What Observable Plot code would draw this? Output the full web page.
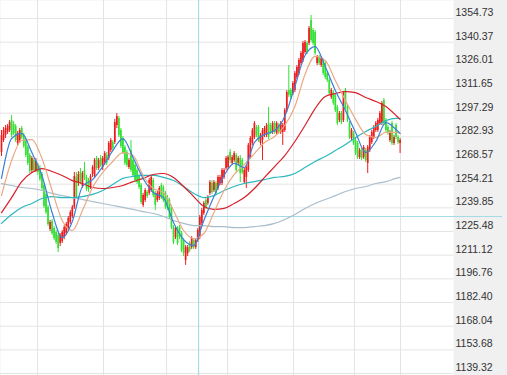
<!DOCTYPE html>
<html><head><meta charset="utf-8">
<script src="https://cdn.jsdelivr.net/npm/d3@7"></script>
<script src="https://cdn.jsdelivr.net/npm/@observablehq/plot@0.6"></script>
<style>body{margin:0;background:#fff;} svg{display:block;}</style>
</head><body><div id="chart"></div>
<script>
// OHLC values, one per candle (index 0..197)
const opens = [
1273.4,1280.7,1283.7,1285.6,1286.8,1292.8,1290.4,1289.2,1278.9,1280.7,
1288.0,1283.7,1280.7,1276.5,1271.6,1262.5,1268.6,1262.5,1264.9,1263.7,
1260.1,1253.4,1248.0,1240.1,1226.7,1231.6,1227.3,1224.9,1223.1,1218.2,
1219.4,1221.8,1224.3,1227.3,1231.0,1234.6,1240.1,1258.3,1254.6,1261.3,
1252.8,1262.5,1258.3,1256.4,1252.2,1260.1,1258.9,1269.8,1263.7,1269.8,
1264.3,1267.4,1271.6,1269.8,1274.6,1279.5,1279.5,1289.8,1294.1,1286.8,
1281.9,1276.5,1273.4,1264.3,1274.6,1268.6,1265.5,1262.5,1258.9,1253.4,
1241.3,1244.3,1249.2,1248.6,1250.4,1256.4,1248.6,1244.3,1245.5,1253.4,
1252.2,1248.6,1246.1,1244.3,1240.1,1227.9,1221.8,1227.3,1227.9,1224.3,
1220.0,1207.9,1212.1,1218.2,1215.7,1220.0,1215.7,1220.0,1221.8,1230.4,
1236.4,1244.3,1242.5,1248.6,1254.6,1250.4,1254.6,1251.6,1254.6,1254.6,
1258.3,1263.7,1264.3,1273.4,1266.8,1268.6,1271.6,1266.8,1269.8,1268.6,
1255.2,1258.3,1262.5,1270.4,1278.9,1282.5,1288.6,1288.6,1278.9,1280.7,
1283.7,1283.7,1291.0,1289.8,1285.6,1291.0,1285.0,1289.8,1285.6,1285.6,
1286.8,1298.9,1311.0,1311.0,1309.2,1311.0,1318.9,1321.4,1327.4,1329.2,
1334.1,1339.6,1339.6,1353.5,1347.5,1346.2,1327.4,1331.1,1326.2,1329.2,
1327.4,1321.4,1317.1,1306.8,1309.8,1308.0,1300.7,1292.8,1297.1,1292.8,
1311.0,1300.7,1291.0,1281.9,1285.0,1280.7,1278.9,1270.4,1274.6,1270.4,
1274.6,1266.8,1274.6,1279.5,1282.5,1286.8,1286.8,1291.0,1291.0,1305.0,
1292.8,1288.6,1280.7,1291.0,1278.9,1289.8,1282.5,1278.9];
const highs = [
1286.8,1288.6,1289.8,1290.4,1292.8,1295.9,1292.2,1290.4,1286.2,1288.0,
1289.2,1285.0,1281.9,1277.7,1272.8,1271.0,1269.8,1269.8,1266.8,1265.5,
1261.3,1254.6,1249.2,1241.3,1232.2,1232.8,1228.5,1226.1,1224.3,1224.3,
1226.1,1229.1,1231.0,1234.6,1238.2,1241.3,1261.3,1261.3,1261.9,1263.7,
1261.9,1267.4,1259.5,1257.7,1260.1,1265.5,1269.8,1271.0,1269.8,1271.6,
1271.0,1274.0,1273.4,1280.1,1281.9,1280.7,1293.5,1297.1,1295.3,1288.0,
1283.1,1277.7,1274.6,1269.8,1280.7,1269.8,1266.8,1263.7,1260.1,1254.6,
1248.6,1251.6,1250.4,1257.7,1259.5,1257.7,1249.8,1249.8,1252.8,1254.6,
1253.4,1249.8,1247.3,1245.5,1241.3,1229.1,1228.5,1228.5,1229.1,1225.5,
1221.2,1217.0,1217.0,1219.4,1222.4,1221.2,1221.2,1227.3,1235.2,1239.5,
1243.7,1245.5,1247.3,1256.4,1256.4,1256.4,1255.8,1259.5,1259.5,1263.7,
1263.7,1271.0,1271.6,1275.3,1271.6,1274.0,1272.8,1271.0,1271.6,1269.8,
1263.7,1265.5,1278.9,1283.1,1288.0,1292.2,1289.8,1289.8,1285.0,1288.0,
1289.2,1291.0,1300.7,1291.0,1292.2,1292.2,1292.2,1291.0,1292.2,1291.0,
1300.1,1311.0,1326.2,1312.3,1316.5,1322.6,1326.2,1330.5,1334.7,1340.8,
1341.4,1340.8,1349.9,1356.6,1348.7,1347.5,1332.3,1332.3,1331.7,1330.5,
1328.6,1322.6,1318.3,1312.3,1311.0,1309.2,1302.0,1298.3,1298.3,1310.4,
1312.3,1302.0,1292.2,1288.0,1286.2,1281.9,1280.1,1275.9,1275.9,1277.7,
1275.9,1277.7,1283.7,1286.8,1289.8,1292.2,1294.1,1298.3,1304.4,1306.2,
1294.1,1289.8,1286.8,1292.2,1283.7,1291.0,1283.7,1281.9];
const lows = [
1271.0,1279.5,1281.9,1284.4,1285.6,1282.5,1283.7,1279.5,1277.7,1278.9,
1281.3,1275.9,1270.4,1265.5,1260.7,1260.7,1261.3,1261.3,1259.5,1255.8,
1250.4,1239.5,1235.8,1228.5,1225.5,1223.1,1220.0,1217.6,1212.7,1216.4,
1218.2,1220.6,1223.1,1226.1,1229.8,1233.4,1238.9,1244.9,1252.8,1254.0,
1251.6,1256.4,1249.8,1249.2,1251.0,1258.3,1257.7,1262.5,1262.5,1264.3,
1262.5,1265.5,1265.5,1268.6,1273.4,1274.6,1278.3,1288.0,1282.5,1275.9,
1272.2,1265.5,1264.3,1263.1,1261.3,1258.3,1255.2,1254.0,1251.0,1241.9,
1240.1,1243.1,1245.5,1247.3,1249.2,1246.1,1238.2,1243.1,1244.3,1244.9,
1243.1,1238.9,1238.2,1232.8,1226.7,1217.6,1220.6,1217.0,1220.6,1212.7,
1210.3,1204.9,1210.3,1212.7,1214.6,1214.6,1214.6,1218.8,1220.6,1229.1,
1235.2,1238.9,1241.3,1247.3,1248.0,1249.2,1247.3,1250.4,1253.4,1253.4,
1257.0,1262.5,1263.1,1266.8,1265.5,1267.4,1261.3,1265.5,1255.2,1260.1,
1254.0,1251.6,1261.3,1269.2,1277.7,1281.3,1282.5,1279.5,1277.7,1268.6,
1282.5,1282.5,1281.3,1284.4,1284.4,1284.4,1283.7,1284.4,1284.4,1277.7,
1285.6,1297.7,1306.8,1305.6,1308.0,1309.8,1317.7,1320.2,1326.2,1328.0,
1332.9,1332.9,1338.3,1340.2,1338.3,1332.3,1326.2,1326.2,1325.0,1320.2,
1317.7,1315.9,1308.0,1305.6,1302.0,1297.7,1289.8,1291.6,1290.4,1291.6,
1299.5,1291.6,1281.3,1280.7,1277.7,1271.6,1269.2,1269.2,1268.6,1269.2,
1267.4,1260.7,1273.4,1278.3,1281.3,1285.6,1285.6,1289.8,1289.8,1289.8,
1285.6,1283.7,1279.5,1277.7,1277.7,1281.3,1278.3,1272.8];
const closes = [
1283.7,1286.8,1288.0,1289.2,1291.6,1283.7,1285.0,1280.7,1285.0,1286.8,
1282.5,1277.1,1271.6,1266.8,1261.9,1269.8,1262.5,1268.0,1261.3,1257.0,
1251.6,1240.7,1237.0,1229.8,1231.0,1224.3,1221.2,1218.8,1215.2,1223.1,
1224.9,1227.9,1229.8,1233.4,1237.0,1240.1,1258.9,1246.1,1260.1,1255.2,
1260.7,1257.7,1251.0,1251.0,1258.9,1264.3,1268.6,1263.7,1268.6,1265.5,
1269.8,1272.8,1266.8,1278.9,1280.7,1275.9,1291.6,1295.3,1283.7,1277.1,
1273.4,1266.8,1265.5,1268.6,1262.5,1259.5,1256.4,1255.2,1252.2,1243.1,
1247.3,1250.4,1246.7,1256.4,1258.3,1247.3,1241.3,1248.6,1251.6,1246.1,
1244.3,1240.1,1239.5,1234.0,1227.9,1218.8,1227.3,1218.2,1221.8,1214.0,
1212.1,1215.7,1215.7,1214.0,1221.2,1215.7,1220.0,1226.1,1234.0,1238.2,
1242.5,1240.1,1246.1,1255.2,1249.2,1255.2,1248.6,1258.3,1258.3,1262.5,
1262.5,1269.8,1270.4,1268.6,1270.4,1272.8,1262.5,1269.8,1260.7,1261.3,
1262.5,1264.3,1277.7,1281.9,1286.8,1291.0,1283.7,1280.7,1283.7,1286.8,
1288.0,1289.8,1282.5,1285.6,1291.0,1285.6,1291.0,1285.6,1291.0,1289.8,
1298.9,1309.8,1308.0,1306.8,1315.3,1321.4,1325.0,1329.2,1333.5,1339.6,
1340.2,1334.1,1348.7,1341.4,1339.6,1333.5,1331.1,1327.4,1330.5,1321.4,
1318.9,1317.1,1309.2,1311.0,1303.2,1298.9,1291.0,1297.1,1291.6,1309.2,
1300.7,1292.8,1282.5,1286.8,1278.9,1272.8,1270.4,1274.6,1269.8,1276.5,
1268.6,1276.5,1282.5,1285.6,1288.6,1291.0,1292.8,1297.1,1303.2,1291.0,
1286.8,1285.0,1285.6,1278.9,1282.5,1282.5,1279.5,1280.7];

// Moving averages, read at these candle indices
const maIdx = [0,5,10,15,20,25,30,35,40,45,50,55,60,65,70,75,80,85,90,95,100,105,110,115,120,125,130,135,140,145,150,155,160,165,170,175,180,185,190,195,197];
const ma5 = [1257.7,1281.9,1285.0,1273.4,1259.5,1237.0,1221.8,1231.6,1252.8,1257.0,
1264.9,1274.6,1281.9,1270.4,1257.7,1249.2,1246.1,1231.0,1220.6,1217.0,
1232.2,1246.7,1259.5,1266.8,1264.3,1279.5,1284.4,1286.8,1295.3,1313.5,
1332.3,1337.7,1325.6,1311.0,1298.9,1285.6,1273.4,1280.1,1291.6,1287.4,1285.0];
const ma10 = [1247.3,1268.6,1280.7,1281.3,1269.8,1250.4,1232.2,1226.1,1238.2,1252.2,
1261.3,1268.0,1273.4,1271.6,1259.5,1251.6,1249.2,1238.2,1226.1,1221.2,
1224.3,1237.0,1250.4,1260.1,1266.1,1272.8,1279.5,1283.1,1289.8,1301.3,
1320.8,1331.7,1329.2,1317.1,1305.0,1293.5,1284.4,1282.5,1285.6,1285.6,1285.0];
const ma20 = [1237.0,1246.1,1255.8,1261.3,1263.7,1261.9,1259.5,1256.4,1254.6,1252.2,
1251.6,1252.2,1253.4,1255.8,1257.7,1260.1,1260.7,1258.3,1252.8,1246.7,
1240.7,1238.9,1239.5,1242.5,1246.1,1251.6,1258.3,1264.9,1271.6,1280.1,
1289.8,1300.1,1307.4,1309.2,1310.4,1309.8,1306.8,1304.4,1301.3,1295.9,1293.5];
const ma60 = [1230.4,1235.8,1240.1,1242.5,1245.5,1246.7,1246.1,1246.1,1246.7,1248.0,
1250.4,1254.0,1257.7,1258.9,1259.5,1259.5,1258.3,1256.4,1252.8,1248.6,
1246.1,1247.3,1250.4,1252.8,1254.6,1255.8,1257.0,1258.3,1258.9,1260.7,
1264.3,1268.0,1271.0,1274.6,1278.3,1282.5,1286.2,1289.2,1292.8,1294.1,1294.1];
const ma120 = [1254.6,1253.4,1252.2,1251.6,1250.4,1248.6,1247.3,1246.1,1244.9,1243.7,
1242.5,1241.3,1240.1,1238.9,1237.6,1236.4,1234.6,1232.2,1230.4,1229.1,
1229.1,1228.5,1228.5,1227.9,1227.9,1228.5,1229.1,1230.4,1232.8,1235.8,
1239.5,1242.5,1244.9,1247.3,1249.8,1251.6,1252.8,1254.6,1255.8,1257.7,1258.3];

// Axis labels and grid positions
const yTicks = [1354.73,1340.37,1326.01,1311.65,1297.29,1282.93,1268.57,1254.21,1239.85,1225.48,1211.12,1196.76,1182.40,1168.04,1153.68,1139.32];
const xGrid = [17.8,50.4,81.6,111.7,144.3,174.5,197.2];
const crossX = [97.4];
const crossY = [1234.6];

const candles = opens.map((o, i) => ({i, o, h: highs[i], l: lows[i], c: closes[i]}));
const upColor = "#f01c1c", downColor = "#33e033";
const col = d => d.c >= d.o ? upColor : downColor;

const maDefs = [
  {vals: ma120, color: "#a9bdcc"},
  {vals: ma60, color: "#2bb8bf"},
  {vals: ma20, color: "#d81f2a"},
  {vals: ma10, color: "#eaa985"},
  {vals: ma5, color: "#3a7fd8"}
];

const chart = Plot.plot({
  width: 507, height: 375,
  marginTop: 0, marginBottom: 0, marginLeft: 0, marginRight: 54,
  x: {domain: [-0.5, 223.4], axis: null},
  y: {domain: [1138.14, 1365.65], axis: null},
  style: {background: "#f0f0f0", fontFamily: "'Liberation Sans', Arial, sans-serif", fontSize: "10.5px", color: "#333"},
  marks: [
    Plot.frame({fill: "#ffffff", stroke: "none"}),
    Plot.gridY(yTicks, {stroke: "#e4e4e4", strokeOpacity: 1}),
    Plot.ruleX(xGrid, {stroke: "#e4e4e4", strokeOpacity: 1}),
    Plot.ruleX(crossX, {stroke: "#a6dbe5", strokeWidth: 1.2}),
    Plot.ruleY(crossY, {stroke: "#a6dbe5", strokeWidth: 1.2, insetRight: -49}),
    Plot.ruleX(candles, {x: "i", y1: "l", y2: "h", stroke: col, strokeWidth: 1}),
    Plot.ruleX(candles, {x: "i", y1: "o", y2: "c", stroke: col, strokeWidth: 1.7}),
    ...maDefs.map(m => Plot.line(m.vals, {x: (d, k) => maIdx[k], y: d => d, stroke: m.color, strokeWidth: 1.2, curve: "monotone-x"})),
    Plot.axisY(yTicks, {anchor: "right", tickSize: 0, tickPadding: 2, dy: -6, tickFormat: d => d.toFixed(2), fill: "#333"})
  ]
});
document.getElementById("chart").appendChild(chart);
</script>
</body></html>
